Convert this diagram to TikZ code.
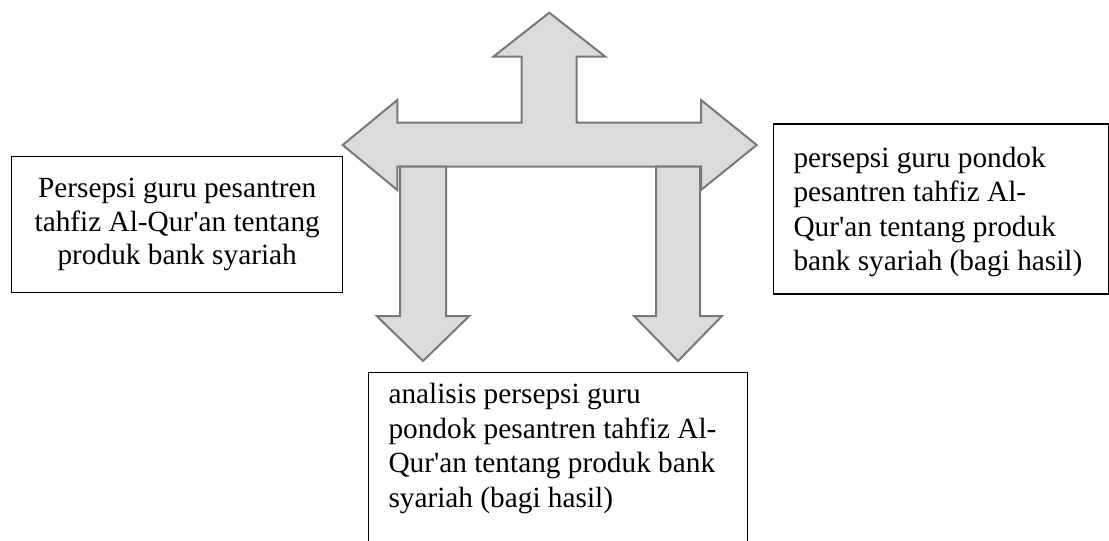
\documentclass[tikz,border=0pt]{standalone}
\usepackage{fontspec}
\setmainfont{Liberation Serif}
\begin{document}
\begin{tikzpicture}[x=1pt,y=-1pt,
  bigarrow/.style={draw=black!53, fill=black!14, line width=2pt, line join=miter},
  boxline/.style={draw=black, line width=1.2pt},
  boxtext/.style={inner sep=0pt, font=\fontsize{29.3}{34.5}\selectfont}]
\useasboundingbox (0,0) rectangle (1109,541);
% left-right-up arrow
\path[bigarrow] (342.7,145) -- (397.3,100) -- (397.3,122.7) -- (521.7,122.7) -- (521.7,56.7)
  -- (493.3,56.7) -- (549.3,12.7) -- (605.3,56.7) -- (576.7,56.7) -- (576.7,122.7)
  -- (701,122.7) -- (701,100) -- (756.7,145) -- (701,190) -- (701,166.7)
  -- (397.3,166.7) -- (397.3,190) -- cycle;
% down arrows
\path[bigarrow] (400,166.7) -- (446,166.7) -- (446,316) -- (469.3,316) -- (423,361)
  -- (376.7,316) -- (400,316) -- cycle;
\path[bigarrow] (656,166.7) -- (700,166.7) -- (700,316) -- (722,316) -- (678,361)
  -- (634,316) -- (656,316) -- cycle;
% left box
\node[boxline, minimum width=331pt, minimum height=136pt, inner sep=0pt] (lbox) at (177.2,224.7) {};
\node[boxtext, align=center, anchor=north, font=\fontsize{29.3}{33.5}\selectfont] (ltext) at (177.2,178) {Persepsi guru pesantren\\tahfiz Al-Qur\textquotesingle an tentang\\produk bank syariah};
% right box
\node[boxline, minimum width=335pt, minimum height=170pt, inner sep=0pt, anchor=north west] (rbox) at (772.7,123.3) {};
\node[boxtext, align=left, anchor=north west] (rtext) at (793.3,146.5) {persepsi guru pondok\\pesantren tahfiz Al-\\Qur\textquotesingle an tentang produk\\bank syariah (bagi hasil)};
% bottom box (open below the picture edge)
\draw[boxline] (368.3,541) |- (747.3,372.7) coordinate (bboxtop) -- (747.3,541);
\node[boxtext, align=left, anchor=north west] (btext) at (388.3,383) {analisis persepsi guru\\pondok pesantren tahfiz Al-\\Qur\textquotesingle an tentang produk bank\\syariah (bagi hasil)};
\end{tikzpicture}
\end{document}
